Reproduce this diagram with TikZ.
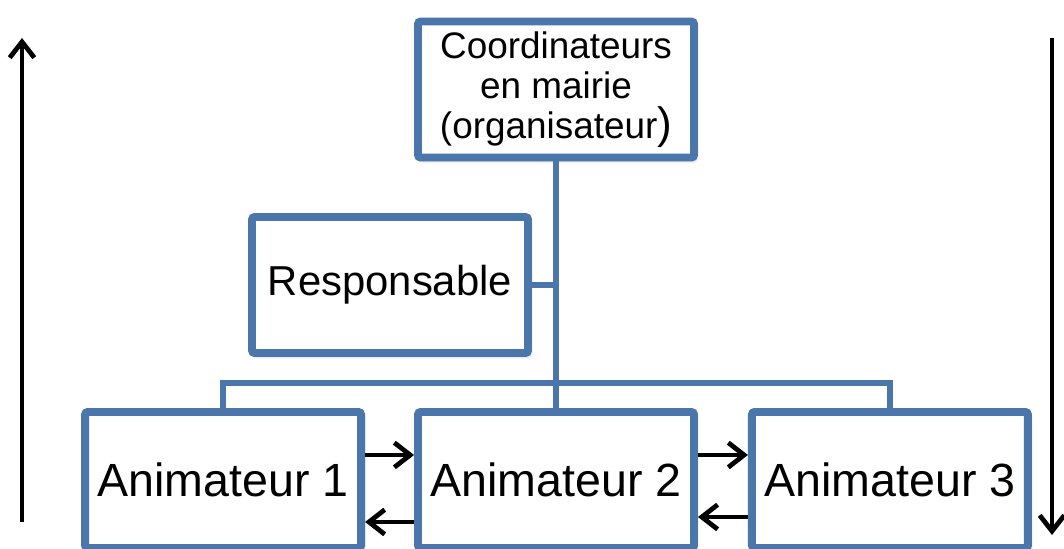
\documentclass[tikz,border=0pt]{standalone}
\usepackage{fontspec}
\setmainfont{Liberation Sans}
\usetikzlibrary{arrows.meta, positioning, shadows.blur}

\definecolor{boxblue}{RGB}{74,118,172}

\begin{document}
\begin{tikzpicture}[
  every node/.style={align=center},
  orgbox/.style={draw=boxblue, line width=4.5pt, fill=white, rounded corners=1.5pt,
    minimum width=5.52cm, minimum height=2.72cm, inner sep=0pt,
    blur shadow={shadow xshift=1pt, shadow yshift=-1.5pt, shadow blur steps=6, shadow opacity=35}},
  link/.style={draw=boxblue, line width=3pt},
  flow/.style={-{Straight Barb[length=9pt,width=14pt]}, line width=2.7pt, black}
]
\useasboundingbox (0,0) rectangle (21.28,10.98);

% Nodes
\node[orgbox, font=\fontsize{21}{22.7}\selectfont] (coord) at (11.12,9.19)
  {Coordinateurs\\en mairie\\(organisateur{\fontsize{25}{22.7}\selectfont)}};
\node[orgbox, font=\fontsize{23.8}{28}\selectfont] (resp) at (7.8,5.28) {Responsable};
% Animateurs
\node[orgbox, font=\fontsize{26.5}{30}\selectfont] (anim2) at (11.12,1.38) {Animateur 2};
\node[orgbox, font=\fontsize{26.5}{30}\selectfont, left=0.98cm of anim2] (anim1) {Animateur 1};
\node[orgbox, font=\fontsize{26.5}{30}\selectfont, right=1cm of anim2] (anim3) {Animateur 3};

% Edges
\coordinate (bus) at (coord.south |- 0,3.32);
\draw[link] (coord.south) -- (anim2.north);
\draw[link] (resp.east) -- (resp.east -| coord.south);
\draw[link] (anim1.north) |- (bus) -| (anim3.north);

% Arrows between animateurs
\draw[flow] ([yshift=0.5cm]anim1.east) -- ([yshift=0.5cm]anim2.west);
\draw[flow] ([yshift=-0.84cm]anim2.west) -- ([yshift=-0.84cm]anim1.east);
\draw[flow] ([yshift=0.5cm]anim2.east) -- ([yshift=0.5cm]anim3.west);
\draw[flow] ([yshift=-0.74cm]anim3.west) -- ([yshift=-0.74cm]anim2.east);

% Side arrows
\coordinate (upfoot) at (0.44,0.54);
\coordinate (uptip) at (0.44,10.22);
\coordinate (downtop) at (21.04,10.22);
\coordinate (downtip) at (21.04,0.28);
\draw[flow] (upfoot) -- (uptip);
\draw[flow] (downtop) -- (downtip);
\end{tikzpicture}
\end{document}
